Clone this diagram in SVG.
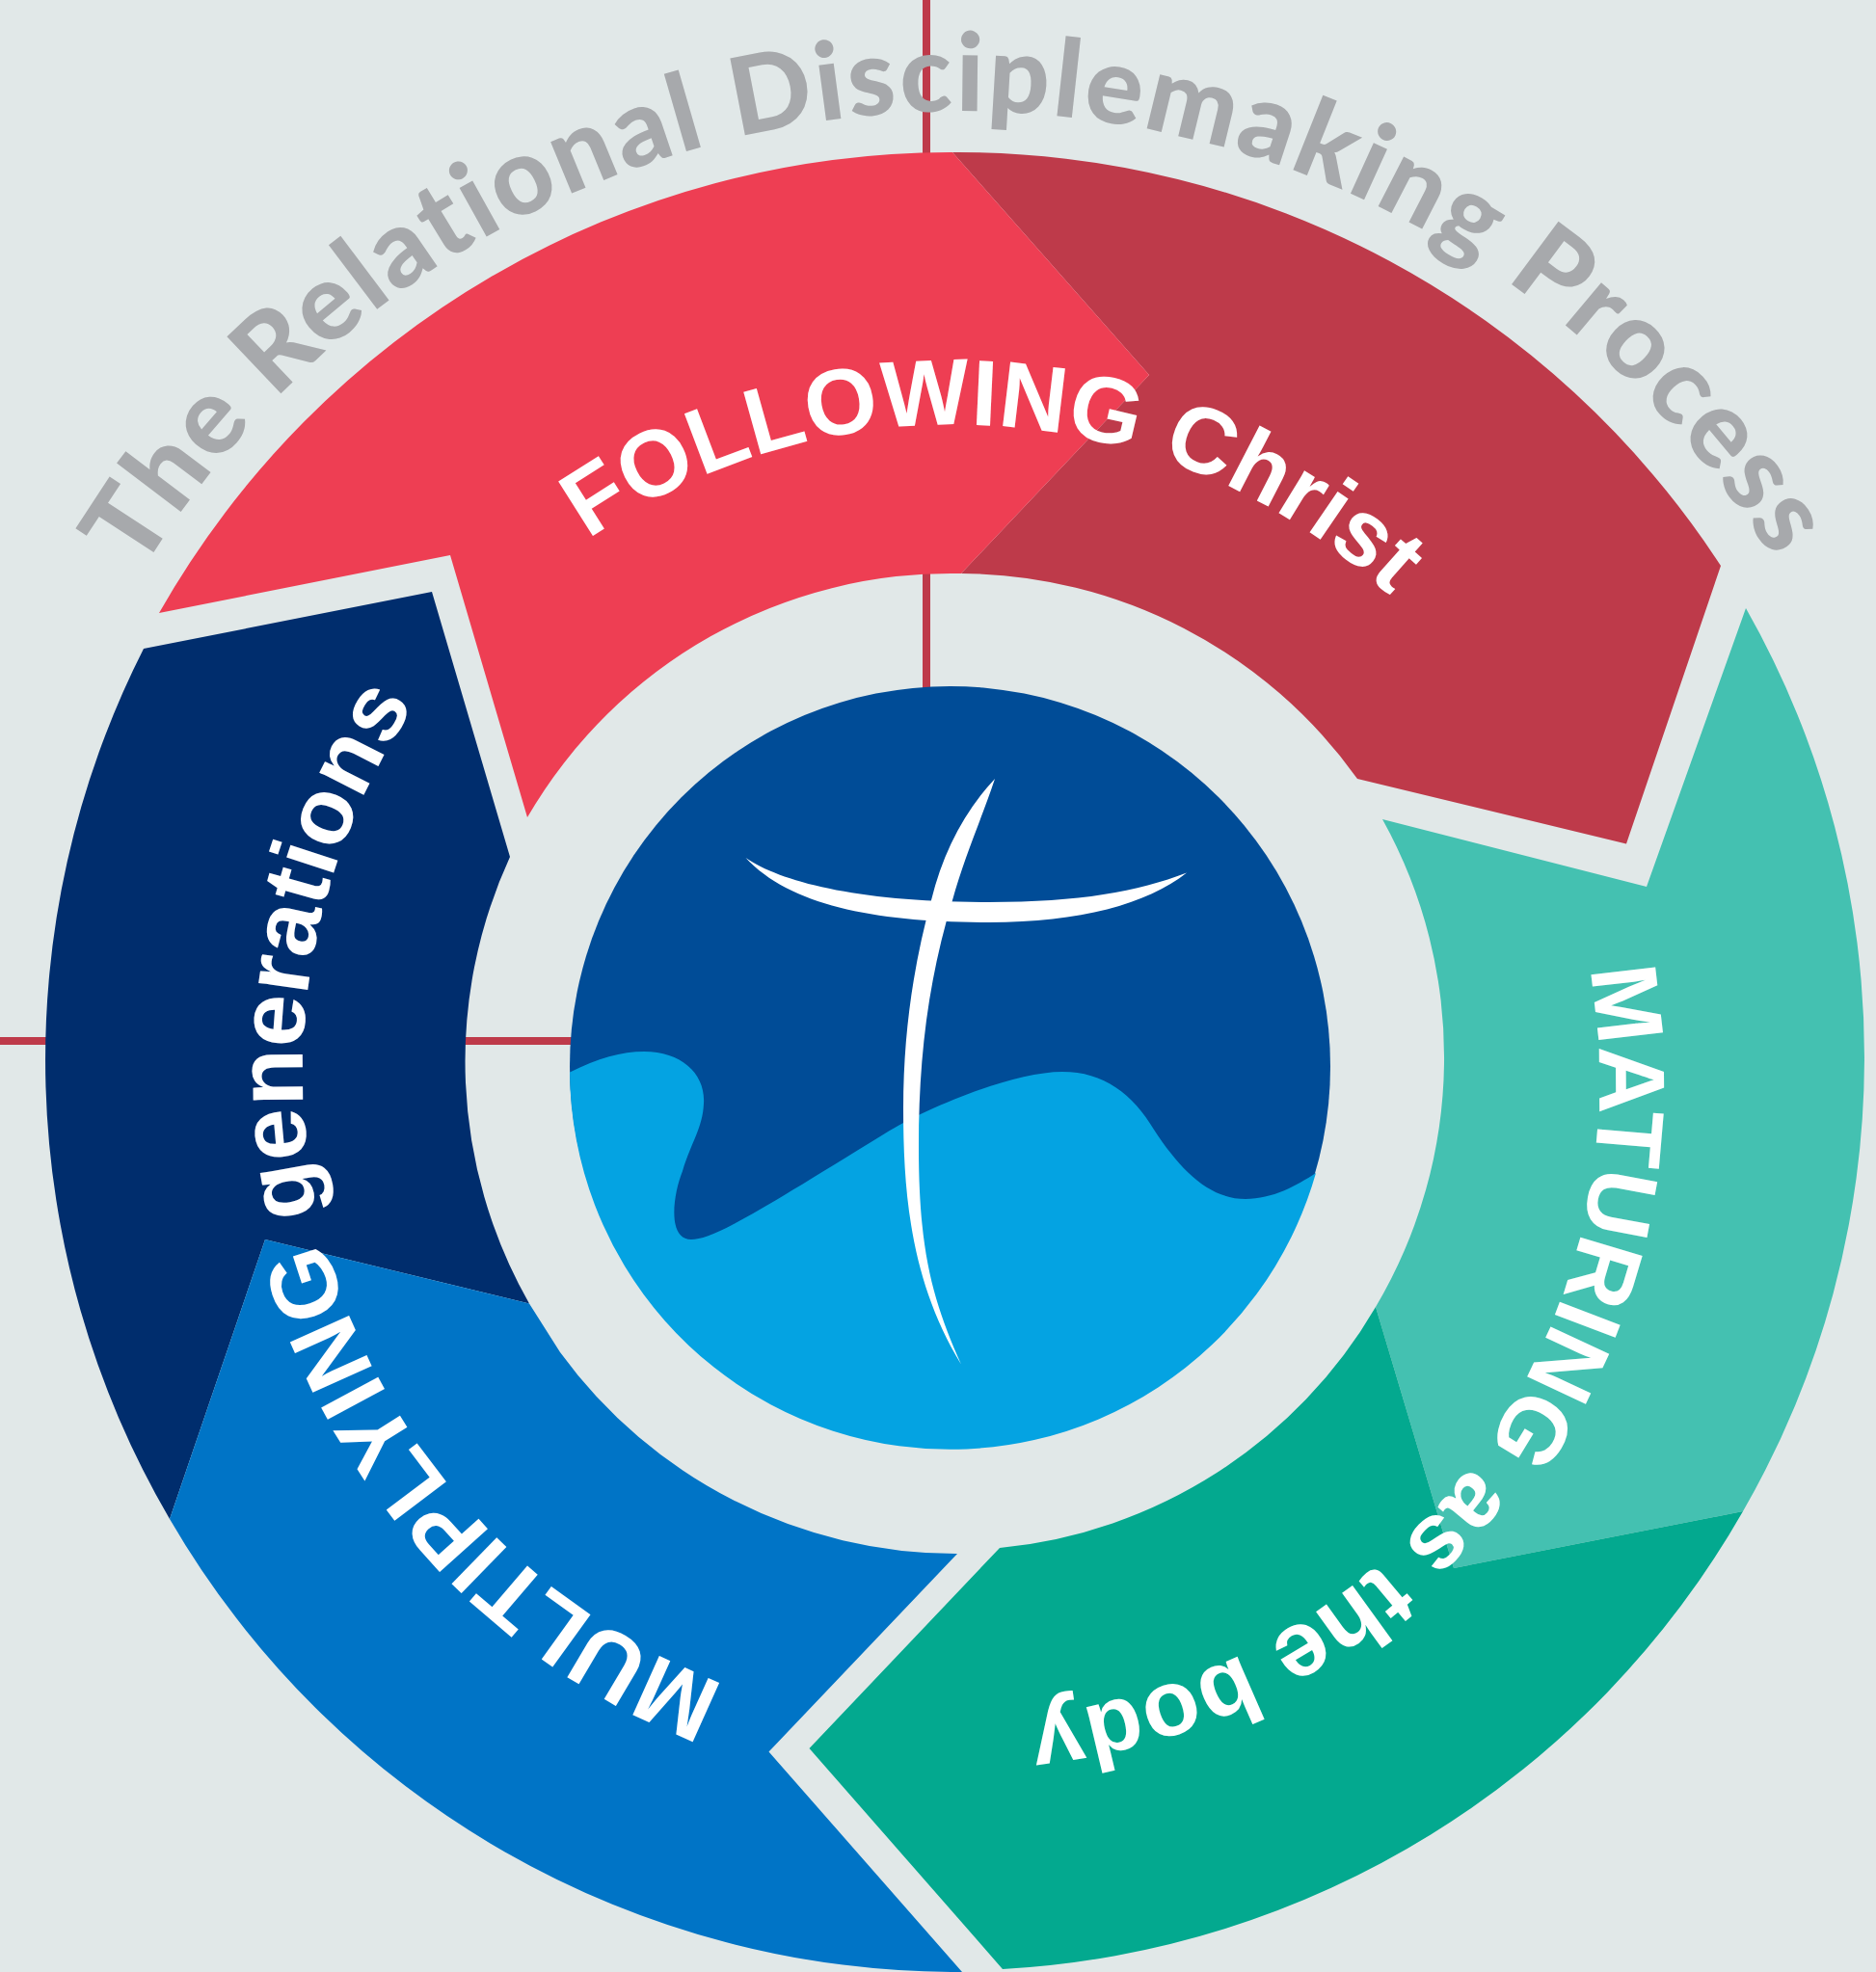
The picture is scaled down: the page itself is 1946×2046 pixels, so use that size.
<svg xmlns="http://www.w3.org/2000/svg" width="1946" height="2046" viewBox="0 0 1946 2046">
<style>
.w{font-family:"Liberation Sans",Arial,sans-serif;font-weight:700;font-size:97.5px;fill:#fff}
.t{font-family:Lato,"Open Sans",sans-serif;font-weight:900;font-size:112px;letter-spacing:2.9px;fill:#a7a9ac}
.g{fill:none;stroke:#be3a4a;stroke-width:8}
</style>
<defs>
<path id="pT" d="M146,594.6 A995,995 0 0 1 1932,770"/>
<path id="pF" d="M610,560 A664,664 0 0 1 1565,773"/>
<path id="pM" d="M1648.5,1005 A662,662 0 0 1 771,1744"/>
<path id="pL" d="M752.5,1747.7 A680,680 0 0 1 557,591"/>
</defs>
<rect width="1946" height="2046" fill="#e1e8e8"/>
<g id="guides">
<path class="g" d="M961,0V720M0,1080H600"/>
</g>
<text id="title" class="t"><textPath href="#pT">The Relational Disciplemaking Process</textPath></text>
<g id="following">
<path fill="#be3a4a" d="M988,158 A944,944 0 0 1 1785,587 L1687,875.5 L1408,808 A508,508 0 0 0 997,595 L1192,389Z"/>
<path fill="#ee3e53" d="M165,636 A944,944 0 0 1 988,158 L1192,389 L997,595 A508,508 0 0 0 547,848 L467,576Z"/>
<text class="w" style="font-size:97.2px"><textPath href="#pF">FOLLOWING Christ</textPath></text>
</g>
<g id="maturing">
<path fill="#44c1b1" d="M1811,631 A944,944 0 0 1 1808,1568 L1508,1627 L1427,1356 A508,508 0 0 0 1434,850 L1708,920Z"/>
<path fill="#03a98f" d="M1808,1568 A944,944 0 0 1 1040,2043 L839.5,1814 L1037,1606 A508,508 0 0 0 1427,1356 L1508,1627Z"/>
<text class="w"><textPath href="#pM">MATURING as the body</textPath></text>
</g>
<g id="multiplying">
<path fill="#002d6d" d="M176,1576 A944,944 0 0 1 149,673 L448,614 L529,889 A508,508 0 0 0 549,1352.5 L275,1286Z"/>
<path fill="#0074c6" d="M998,2046 A944,944 0 0 1 176,1576 L275,1286 L549,1352.5 L581,1403 A508,508 0 0 0 993,1612 L797.5,1817.5Z"/>
<text class="w"><textPath href="#pL">MULTIPLYING generations</textPath></text>
</g>
<g id="globe">
<circle cx="985.5" cy="1106.5" r="394.5" fill="#004c97"/>
<path fill="#04a3e2" d="M591,1112.6 C620,1098 645,1091 668,1091 C708,1091 732,1115 730,1145 C729,1170 717,1185 708,1215 C698,1240 692,1286 717,1286 C740,1286 785,1258 918,1176 C960,1150 1050,1112 1102,1112 C1145,1112 1175,1135 1197,1172 C1225,1215 1255,1244 1292,1244 C1320,1244 1345,1230 1365,1217 A394.5,394.5 0 0 1 591,1112.6Z"/>
<path fill="#fff" d="M1032,808 C1000,842 978,885 966,934 C948,1000 937,1070 937,1150 C937,1240 945,1330 997,1415.5 C968,1350 953,1300 953,1190 C953,1100 962,1020 988,934 C1000,890 1018,850 1032,808Z"/>
<path fill="#fff" d="M773.5,890 C810,915 890,936 1026,936 C1120,936 1180,925 1231,905.5 C1190,938 1120,957 1026,957 C910,957 820,940 773.5,890Z"/>
</g>
</svg>
